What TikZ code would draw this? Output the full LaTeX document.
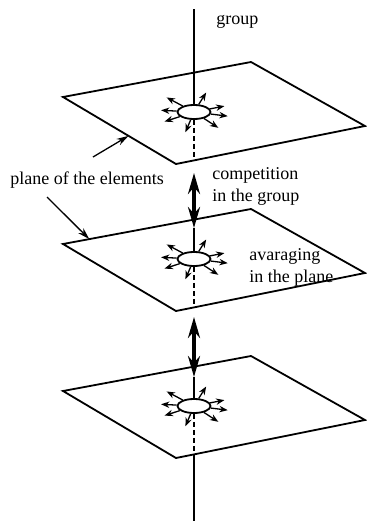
\documentclass[tikz,border=0pt]{standalone}
\usepackage{fontspec}
\setmainfont{Liberation Serif}
\usetikzlibrary{arrows.meta,calc,shapes.geometric}
\tikzset{
  >={Stealth[length=4.2pt,width=3.2pt]},
  edge/.style={line width=0.9pt,line join=miter},
  axis/.style={line width=0.75pt},
  dashaxis/.style={axis,dash pattern=on 2.5pt off 1.5pt},
  cell/.style={ellipse,draw,line width=0.9pt,fill=white,minimum width=16.5pt,minimum height=7pt,inner sep=0pt},
  spread/.style={->,line width=0.65pt},
  ptr/.style={-{Stealth[length=6pt,width=3.5pt]},line width=0.65pt},
  link/.style={{Stealth[length=10.5pt,width=6pt]}-{Stealth[length=10.5pt,width=6pt]},line width=1.7pt},
  lbl/.style={font=\fontsize{9}{11}\selectfont,align=left,inner sep=0pt},
}

\begin{document}
\begin{tikzpicture}[x=0.5pt,y=-0.5pt]
  \useasboundingbox (0,0) rectangle (366,521);
  % the three planes with their elements
  \foreach \k in {0,1,2} {
    \pgfmathsetmacro\dy{147*\k}
    \coordinate (L\k) at (63,97+\dy);
    \coordinate (T\k) at (251,62+\dy);
    \coordinate (R\k) at (365,126+\dy);
    \coordinate (B\k) at (176,164+\dy);
    \coordinate (F\k) at (194,160.5+\dy);
    \draw[edge] (L\k) -- (T\k) -- (R\k) -- (B\k) -- cycle;
    \node[cell] (E\k) at (194,112+\dy) {};
    \draw[dashaxis] (E\k.south) -- (F\k);
    \foreach \a/\r in {152/15.5,58/11.5,11/15.5,-7/17,-33/14.5,-113/11,-162/15.5,177/16.5}
      \draw[spread] (E\k.\a) -- ($(E\k.center)+(\a:\r pt)$);
  }
  % group axis
  \coordinate (top) at (194,9);
  \coordinate (bot) at (194,521);
  \coordinate (U0) at (194,173);
  \coordinate (D0) at (194,228);
  \coordinate (U1) at (194,317);
  \coordinate (D1) at (194,377);
  \draw[axis] (top) -- (E0.north);
  \draw[link] (U0) -- (D0);
  \draw[axis] (D0) -- (E1.north);
  \draw[link] (U1) -- (D1);
  \draw[axis] (D1) -- (E2.north);
  \draw[axis] (F2) -- (bot);
  % labels
  \node[lbl,anchor=west] (grp) at (216,22) {group};
  \node[lbl,anchor=west] (cmp) at (212,186) {competition\\in the group};
  \node[lbl,anchor=west] (avg) at (249,267) {avaraging\\in the plane};
  \node[lbl,anchor=west] (pln) at (10,180) {plane of the elements};
  \coordinate (P0) at (93,157);
  \coordinate (P1) at (47,197);
  \draw[ptr] (P0) -- ($(L0)!0.58!(B0)$);
  \draw[ptr] (P1) -- ($(L1)!0.14!(T1)$);
\end{tikzpicture}
\end{document}
